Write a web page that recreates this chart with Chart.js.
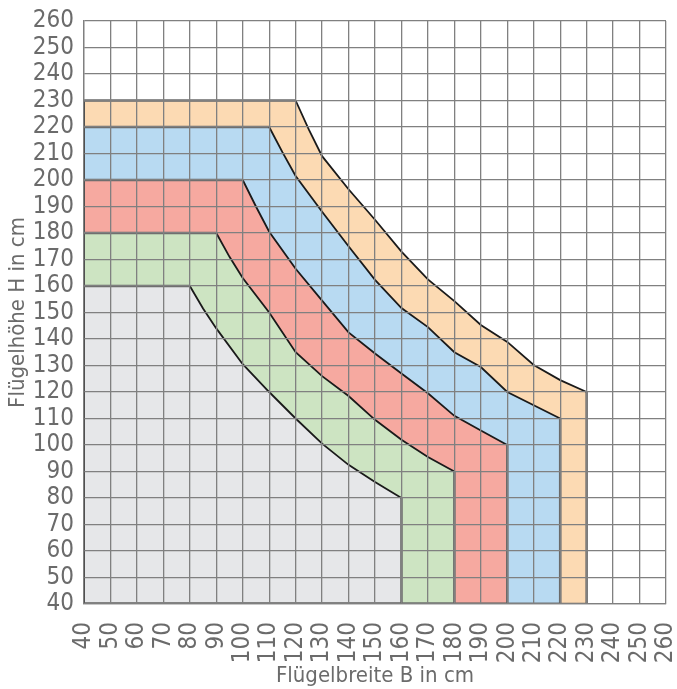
<!DOCTYPE html>
<html>
<head>
<meta charset="utf-8">
<script src="https://cdn.jsdelivr.net/npm/chart.js@4/dist/chart.umd.min.js"></script>
<style>
html,body{margin:0;padding:0;background:#fff;}
#wrap{width:677px;height:689px;}
</style>
</head>
<body>
<div id="wrap"><canvas id="c" width="677" height="689"></canvas></div>
<script>
// Outline of each permitted-size region (width B, height H in cm)
const grayX   = [40, 40, 80, 85, 90, 100, 110, 120, 130, 140, 150, 160, 160];
const grayY   = [40, 160, 160, 151.5, 144, 130.5, 120, 110, 100.5, 92.5, 86, 80, 40];
const greenX  = [40, 40, 90, 95, 100, 110, 120, 130, 140, 150, 160, 170, 180, 180];
const greenY  = [40, 180, 180, 171, 163, 150, 135, 126, 118.5, 109.5, 102, 95.5, 90, 40];
const redX    = [40, 40, 100, 105, 110, 120, 130, 140, 150, 160, 170, 180, 190, 200, 200];
const redY    = [40, 200, 200, 190, 180.5, 166.5, 154.5, 142.5, 134.5, 127, 119.5, 111, 105.5, 100, 40];
const blueX   = [40, 40, 110, 115, 120, 130, 140, 150, 160, 170, 180, 190, 200, 210, 220, 220];
const blueY   = [40, 220, 220, 210.5, 201.5, 188, 175, 162.3, 151.7, 144.5, 135, 129.4, 120, 115, 110, 40];
const orangeX = [40, 40, 120, 125, 130, 140, 150, 160, 170, 180, 190, 200, 210, 220, 230, 230];
const orangeY = [40, 230, 230, 219, 209, 196.5, 185, 173, 162.5, 154.3, 145.3, 138.9, 130.2, 124.5, 120, 40];

const axisMin = 40, axisMax = 260, axisStep = 10;
const xTitle = 'Flügelbreite B in cm';
const yTitle = 'Flügelhöhe H in cm';

const pts = (xs, ys) => xs.map((x, i) => ({x: x, y: ys[i]}));
const closed = (xs, ys) => pts(xs, ys).concat([{x: xs[0], y: ys[0]}]);

const segColor = ctx => {
  const a = ctx.p0.parsed, b = ctx.p1.parsed;
  if (a.x === b.x && a.x === axisMin) return '#222222';
  if (a.y === b.y && a.y === axisMin) return '#666666';
  if (a.x === b.x || a.y === b.y) return '#6a6a6a';
  return '#1a1a1a';
};
const segWidth = ctx => {
  const a = ctx.p0.parsed, b = ctx.p1.parsed;
  if (a.x === b.x && a.x === axisMin) return 2;
  if (a.x === b.x || a.y === b.y) return 2.5;
  return 1.8;
};

function fillDs(xs, ys, color) {
  return {
    data: pts(xs, ys),
    backgroundColor: color,
    borderWidth: 0,
    borderColor: 'rgba(0,0,0,0)',
    pointRadius: 0,
    tension: 0,
    fill: {value: axisMin},
    isOutline: false
  };
}
function lineDs(xs, ys) {
  return {
    data: closed(xs, ys),
    borderColor: '#1a1a1a',
    borderWidth: 1.8,
    pointRadius: 0,
    tension: 0,
    fill: false,
    isOutline: true,
    segment: {borderColor: segColor, borderWidth: segWidth}
  };
}

const restroke = {
  id: 'restroke',
  afterDraw(chart) {
    const ctx = chart.ctx;
    for (let i = chart.data.datasets.length - 1; i >= 0; i--) {
      if (!chart.data.datasets[i].isOutline) continue;
      const meta = chart.getDatasetMeta(i);
      ctx.save();
      meta.dataset.draw(ctx, chart.chartArea);
      ctx.restore();
    }
  }
};

const fontFam = '"Liberation Sans Narrow", "DejaVu Sans Condensed", "Liberation Sans", sans-serif';
const txtColor = '#6b6b6b';

new Chart(document.getElementById('c'), {
  type: 'line',
  data: {
    datasets: [
      lineDs(grayX, grayY),
      lineDs(greenX, greenY),
      lineDs(redX, redY),
      lineDs(blueX, blueY),
      lineDs(orangeX, orangeY),
      fillDs(grayX, grayY, '#e6e7e9'),
      fillDs(greenX, greenY, '#cde4c2'),
      fillDs(redX, redY, '#f6a9a0'),
      fillDs(blueX, blueY, '#b8daf2'),
      fillDs(orangeX, orangeY, '#fcdab3')
    ]
  },
  options: {
    responsive: false,
    animation: false,
    events: [],
    layout: {padding: {top: 21, right: 11, left: 0, bottom: 0}},
    plugins: {legend: {display: false}, tooltip: {enabled: false}},
    scales: {
      x: {
        type: 'linear', min: axisMin, max: axisMax,
        grid: {color: '#808080', lineWidth: 1.3, drawTicks: false, z: 1},
        border: {color: '#808080', width: 1.3, z: 1},
        ticks: {stepSize: axisStep, minRotation: 90, maxRotation: 90, autoSkip: false,
          padding: 18, color: txtColor, font: {family: fontFam, size: 24}},
        title: {display: true, text: xTitle, color: txtColor, padding: {top: 0, bottom: 0},
          font: {family: fontFam, size: 22}},
        afterFit(s) { s.height = 85; s.paddingLeft = 0; s.paddingRight = 0; }
      },
      y: {
        type: 'linear', min: axisMin, max: axisMax,
        grid: {color: '#808080', lineWidth: 1.3, drawTicks: false, z: 1},
        border: {color: '#808080', width: 1.3, z: 1},
        ticks: {stepSize: axisStep, autoSkip: false, padding: 10, color: txtColor,
          font: {family: fontFam, size: 24}},
        title: {display: true, text: yTitle, color: txtColor, padding: {top: 5, bottom: 0},
          font: {family: fontFam, size: 22}},
        afterFit(s) { s.width = 84; s.paddingTop = 0; s.paddingBottom = 0; }
      }
    }
  },
  plugins: [restroke]
});
</script>
</body>
</html>
